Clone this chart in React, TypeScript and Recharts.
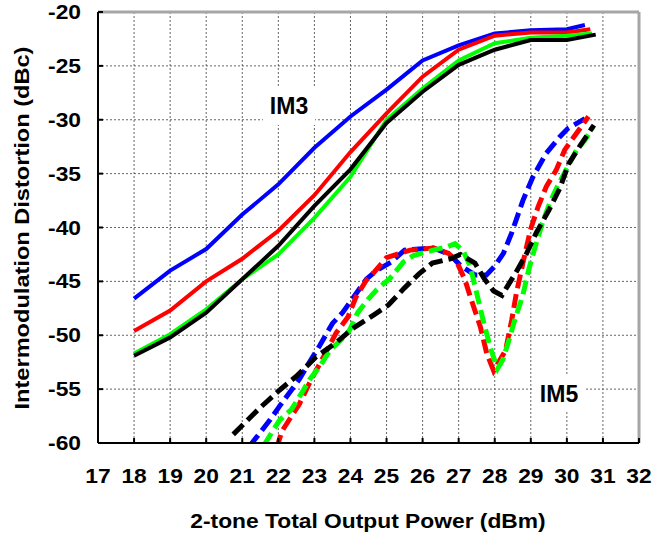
import React from 'react';
import { LineChart, Line, XAxis, YAxis, CartesianGrid, ReferenceLine } from 'recharts';

const xTicks = [17, 18, 19, 20, 21, 22, 23, 24, 25, 26, 27, 28, 29, 30, 31, 32];
const yTicks = [-60, -55, -50, -45, -40, -35, -30, -25, -20];

// IM3 (solid)
const im3BlueX = [18, 19, 20, 21, 22, 23, 24, 25, 26, 27, 28, 29, 30, 30.5];
const im3BlueY = [-46.6, -44.0, -42.0, -38.8, -36.0, -32.6, -29.7, -27.2, -24.5, -23.1, -22.0, -21.7, -21.6, -21.2];
const im3RedX = [18, 19, 20, 21, 22, 23, 24, 25, 26, 27, 28, 29, 30, 30.65];
const im3RedY = [-49.6, -47.7, -45.0, -42.9, -40.3, -37.0, -33.0, -29.4, -26.0, -23.5, -22.2, -21.9, -21.9, -21.6];
const im3GreenX = [18, 19, 20, 21, 22, 23, 24, 25, 26, 27, 28, 29, 30, 30.7];
const im3GreenY = [-51.7, -49.9, -47.6, -44.8, -42.5, -39.1, -35.3, -30.0, -27.1, -24.5, -22.9, -22.4, -22.2, -22.0];
const im3BlackX = [18, 19, 20, 21, 22, 23, 24, 25, 26, 27, 28, 29, 30, 30.8];
const im3BlackY = [-51.9, -50.2, -47.9, -44.8, -41.7, -38.0, -34.6, -30.3, -27.4, -24.9, -23.5, -22.6, -22.6, -22.1];

// IM5 (dashed)
const im5BlueX = [21.2, 21.76, 22.03, 22.36, 22.58, 22.9, 23.14, 23.5, 23.78, 24.1, 24.44, 24.72, 25.13, 25.5, 26.3, 26.75, 27.07, 27.45, 27.77, 28.0, 28.24, 28.47, 28.78, 29.06, 29.43, 29.8, 30.03, 30.5];
const im5BlueY = [-60.3, -57.9, -56.6, -55.1, -54.1, -52.3, -51.0, -48.9, -47.9, -46.4, -44.8, -44.0, -43.2, -42.1, -41.9, -42.5, -43.6, -44.4, -44.4, -43.6, -42.4, -40.5, -37.5, -35.3, -33.1, -31.6, -30.8, -29.9];
const im5RedX = [21.95, 22.1, 22.58, 22.9, 23.3, 23.6, 23.93, 24.16, 24.44, 24.67, 25.0, 25.65, 26.3, 26.72, 26.95, 27.18, 27.32, 27.6, 27.78, 27.97, 28.3, 28.47, 28.6, 28.8, 29.0, 29.2, 29.43, 29.7, 29.94, 30.13, 30.6];
const im5RedY = [-60.5, -58.9, -56.4, -54.2, -51.7, -49.8, -48.3, -46.4, -44.9, -44.1, -42.8, -42.1, -41.9, -42.4, -43.2, -44.9, -46.4, -49.2, -51.7, -53.3, -51.4, -48.6, -46.1, -43.0, -40.1, -38.1, -36.2, -34.7, -32.8, -31.9, -29.7];
const im5GreenX = [21.6, 22.03, 22.36, 22.64, 22.87, 23.15, 23.43, 23.75, 23.98, 24.2, 24.48, 24.72, 25.1, 25.47, 25.75, 26.3, 26.67, 26.9, 27.13, 27.32, 27.5, 27.7, 27.9, 28.08, 28.22, 28.4, 28.58, 28.77, 28.95, 29.13, 29.32, 29.55, 29.78, 30.05, 30.27, 30.5, 30.73];
const im5GreenY = [-60.2, -57.9, -56.9, -55.4, -54.1, -52.9, -51.4, -50.4, -49.5, -47.9, -46.7, -45.8, -44.7, -43.2, -42.6, -42.1, -41.8, -41.5, -42.2, -43.6, -46.1, -48.9, -51.4, -53.1, -52.3, -50.4, -48.3, -46.4, -43.8, -41.7, -39.6, -37.5, -35.9, -34.2, -32.8, -31.9, -30.6];
const im5BlackX = [20.75, 21.47, 22.03, 22.5, 23.05, 23.6, 24.05, 24.65, 25.05, 25.5, 25.9, 26.27, 26.77, 27.05, 27.45, 27.7, 27.97, 28.2, 28.38, 28.6, 28.87, 29.15, 29.5, 29.8, 30.05, 30.35, 30.75];
const im5BlackY = [-59.2, -56.8, -55.1, -53.8, -52.0, -50.7, -49.4, -48.1, -47.2, -45.6, -44.3, -43.3, -42.9, -42.5, -43.3, -44.7, -45.9, -46.3, -45.3, -44.1, -42.5, -40.5, -38.4, -36.4, -34.1, -32.5, -30.5];

const xTitle = '2-tone Total Output Power (dBm)';
const yTitle = 'Intermodulation Distortion (dBc)';

const zip = (xs: number[], ys: number[]) => xs.map((x, i) => ({ x, y: ys[i] }));

const FONT = '"Liberation Sans", Arial, Helvetica, sans-serif';
const textStyle = { fontFamily: FONT, fontSize: 20, fontWeight: 700 };
const STRETCH = 1.14;

const YTick = (props: any) => {
  const { x, y, payload } = props;
  return (
    <g transform={`translate(${x},${y})`}>
      <text transform={`scale(${STRETCH},1)`} textAnchor="end" dy="0.355em" fill="#000" style={textStyle}>
        {payload.value}
      </text>
    </g>
  );
};

const XTick = (props: any) => {
  const { x, y, payload } = props;
  return (
    <g transform={`translate(${x},${y})`}>
      <text transform={`scale(${STRETCH},1)`} textAnchor="middle" dy="0.71em" fill="#000" style={textStyle}>
        {payload.value}
      </text>
    </g>
  );
};

const solid = [
  { name: 'IM3 blue', xs: im3BlueX, ys: im3BlueY, color: '#0000ff' },
  { name: 'IM3 red', xs: im3RedX, ys: im3RedY, color: '#ff0000' },
  { name: 'IM3 green', xs: im3GreenX, ys: im3GreenY, color: '#00ff00' },
  { name: 'IM3 black', xs: im3BlackX, ys: im3BlackY, color: '#000000' },
];
const dashed = [
  { name: 'IM5 blue', xs: im5BlueX, ys: im5BlueY, color: '#0000ff' },
  { name: 'IM5 red', xs: im5RedX, ys: im5RedY, color: '#ff0000' },
  { name: 'IM5 green', xs: im5GreenX, ys: im5GreenY, color: '#00ff00' },
  { name: 'IM5 black', xs: im5BlackX, ys: im5BlackY, color: '#000000' },
];

export default function App() {
  return (
    <div style={{ position: 'absolute', left: 0, top: 0, width: 659, height: 535, background: '#fff' }}>
      <LineChart width={659} height={535} margin={{ top: 12, right: 20, bottom: 6, left: 0 }}>
        <CartesianGrid stroke="#666" strokeDasharray="2 2" strokeWidth={1} />
        <XAxis
          type="number"
          dataKey="x"
          domain={[17, 32]}
          ticks={xTicks}
          interval={0}
          allowDataOverflow
          height={86}
          tickSize={-5}
          tickMargin={31}
          tick={<XTick />}
          axisLine={{ stroke: '#000', strokeWidth: 2 }}
          tickLine={{ stroke: '#000', strokeWidth: 2 }}
        />
        <YAxis
          type="number"
          domain={[-60, -20]}
          ticks={yTicks}
          interval={0}
          allowDataOverflow
          width={98}
          tickSize={-5}
          tickMargin={22}
          tick={<YTick />}
          axisLine={{ stroke: '#000', strokeWidth: 2 }}
          tickLine={{ stroke: '#000', strokeWidth: 2 }}
        />
        <ReferenceLine y={-20} stroke="#a6a6a6" strokeWidth={3} />
        <ReferenceLine x={32} stroke="#a6a6a6" strokeWidth={3} />
        {solid.map((s) => (
          <Line
            key={s.name}
            name={s.name}
            data={zip(s.xs, s.ys)}
            dataKey="y"
            type="linear"
            stroke={s.color}
            strokeWidth={4}
            dot={false}
            activeDot={false}
            isAnimationActive={false}
          />
        ))}
        {dashed.map((s) => (
          <Line
            key={s.name}
            name={s.name}
            data={zip(s.xs, s.ys)}
            dataKey="y"
            type="linear"
            stroke={s.color}
            strokeWidth={5}
            strokeDasharray="14 6"
            dot={false}
            activeDot={false}
            isAnimationActive={false}
          />
        ))}
      </LineChart>
      <svg width={659} height={535} style={{ position: 'absolute', left: 0, top: 0, pointerEvents: 'none' }}>
        <rect x={263} y={87} width={52} height={38} fill="#fff" />
        <text x={289} y={114} textAnchor="middle" style={{ fontFamily: FONT, fontSize: 23, fontWeight: 700 }} fill="#000">IM3</text>
        <rect x={533} y={375} width={52} height={35} fill="#fff" />
        <text x={559} y={402} textAnchor="middle" style={{ fontFamily: FONT, fontSize: 23, fontWeight: 700 }} fill="#000">IM5</text>
        <g transform="translate(368,528)">
          <text transform={`scale(${STRETCH},1)`} textAnchor="middle" fill="#000" style={textStyle}>{xTitle}</text>
        </g>
        <g transform="translate(29,228) rotate(-90)">
          <text transform="scale(1.18,1)" textAnchor="middle" fill="#000" style={textStyle}>{yTitle}</text>
        </g>
      </svg>
    </div>
  );
}
